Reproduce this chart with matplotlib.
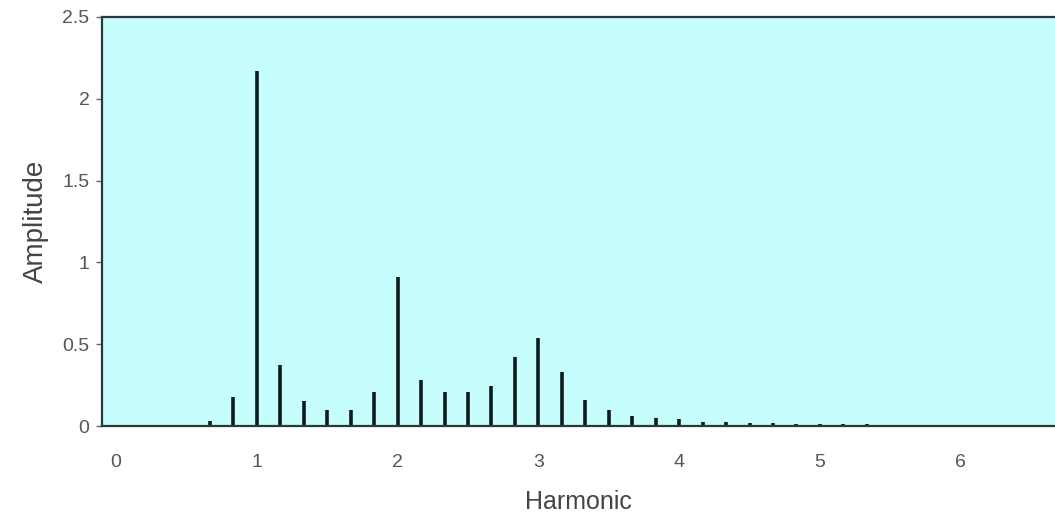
import matplotlib
matplotlib.use("Agg")
import matplotlib.pyplot as plt

# harmonic positions (sixths) and amplitudes
harmonic = [4/6, 5/6, 1, 7/6, 8/6, 9/6, 10/6, 11/6, 2, 13/6, 14/6, 15/6,
            16/6, 17/6, 3, 19/6, 20/6, 21/6, 22/6, 23/6, 4, 25/6, 26/6,
            27/6, 28/6, 29/6, 5, 31/6, 32/6, 33/6]
amplitude = [0.03, 0.18, 2.17, 0.37, 0.15, 0.10, 0.10, 0.21, 0.91, 0.28,
             0.21, 0.21, 0.245, 0.42, 0.54, 0.33, 0.16, 0.10, 0.06, 0.05,
             0.04, 0.025, 0.025, 0.02, 0.02, 0.015, 0.01, 0.01, 0.012, 0.005]
xticks = [0, 1, 2, 3, 4, 5, 6]
yticks = [0, 0.5, 1, 1.5, 2, 2.5]
ytick_labels = ["0", "0.5", "1", "1.5", "2", "2.5"]

plt.rcParams['font.family'] = ['Liberation Sans', 'DejaVu Sans']

fig = plt.figure(figsize=(10.55, 5.15), dpi=100)
ax = fig.add_axes([0.0967, 0.1728, 0.9033, 0.7942])
ax.set_facecolor("#c6fdfd")

ax.vlines(harmonic, 0, amplitude, color="#0d1a1c", linewidth=2.6)

ax.set_xlim(-0.1, 6.67)
ax.set_ylim(0, 2.5)
ax.set_xticks(xticks)
ax.set_xticklabels([str(v) for v in xticks])
ax.set_yticks(yticks)
ax.set_yticklabels(ytick_labels)
ax.tick_params(axis="x", length=0, pad=20, labelsize=14, labelcolor="#555555")
ax.tick_params(axis="y", length=4, width=1, direction="out", pad=5,
               labelsize=14, labelcolor="#555555", color="#666666")

for side in ["top", "left", "bottom"]:
    ax.spines[side].set_color("#2a3a3c")
    ax.spines[side].set_linewidth(1.6)
ax.spines["right"].set_visible(False)

ax.set_xlabel("Harmonic", fontsize=18, color="#444444", labelpad=14)
ax.set_ylabel("Amplitude", fontsize=20, color="#444444", labelpad=10)

fig.savefig("out.png", dpi=100)
